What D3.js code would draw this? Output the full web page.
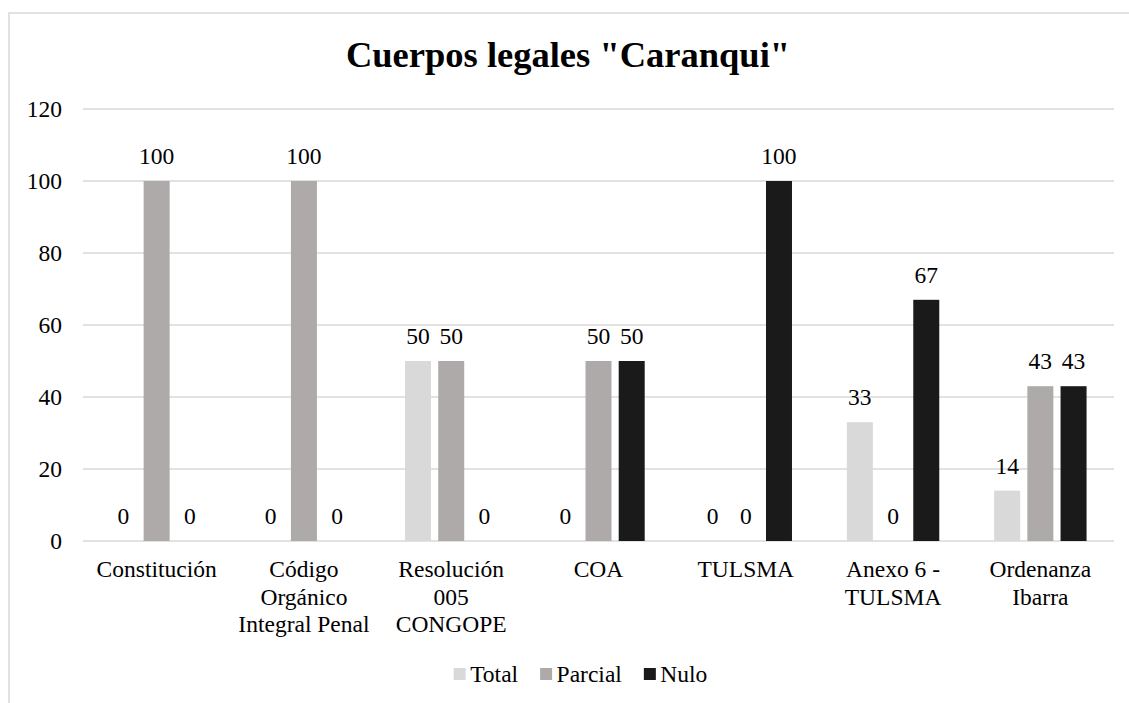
<!DOCTYPE html>
<html>
<head>
<meta charset="utf-8">
<script src="https://cdn.jsdelivr.net/npm/d3@7"></script>
<style>
  html, body { margin: 0; padding: 0; background: #ffffff; }
  svg { display: block; }
  text { font-family: "Liberation Serif", "Times New Roman", serif; fill: #000; }
</style>
</head>
<body>
<svg id="chart" width="1129" height="703"></svg>
<script>
// ---- Data ----
const title = 'Cuerpos legales "Caranqui"';
const categories = [
  ["Constitución"],
  ["Código", "Orgánico", "Integral Penal"],
  ["Resolución", "005", "CONGOPE"],
  ["COA"],
  ["TULSMA"],
  ["Anexo 6 -", "TULSMA"],
  ["Ordenanza", "Ibarra"]
];
const seriesNames = ["Total", "Parcial", "Nulo"];
const totalValues   = [0, 0, 50, 0, 0, 33, 14];
const parcialValues = [100, 100, 50, 50, 0, 0, 43];
const nuloValues    = [0, 0, 0, 50, 100, 67, 43];
const yTicks = [0, 20, 40, 60, 80, 100, 120];
const seriesColors = ["#d9d9d9", "#aeaaaa", "#1a1a1a"];

// ---- Layout ----
const svg = d3.select("#chart");
const W = 1129, H = 703;
const plot = { left: 83, right: 1114, top: 109, bottom: 541 };
const labelFont = 23.5;

// chart border
svg.append("rect")
  .attr("x", 9).attr("y", 13)
  .attr("width", 1140).attr("height", 720)
  .attr("fill", "#fff")
  .attr("stroke", "#d9d9d9").attr("stroke-width", 1.5);

// title
svg.append("text")
  .attr("x", 568).attr("y", 67)
  .attr("text-anchor", "middle")
  .style("font-size", "36.5px").style("font-weight", "bold")
  .text(title);

const catKeys = categories.map((d, i) => i);
const x0 = d3.scaleBand().domain(catKeys).range([plot.left, plot.right]).paddingInner(0).paddingOuter(0);
const groupW = 92.4;
const x1 = d3.scaleBand().domain(seriesNames).range([0, groupW]).paddingInner(0.217).paddingOuter(0);
const y = d3.scaleLinear().domain([0, 120]).range([plot.bottom, plot.top]);

// gridlines
svg.append("g").selectAll("line").data(yTicks).join("line")
  .attr("x1", plot.left).attr("x2", plot.right)
  .attr("y1", d => y(d)).attr("y2", d => y(d))
  .attr("stroke", "#d9d9d9").attr("stroke-width", 1.5);

// y axis labels via d3 axis
const yAxis = d3.axisLeft(y).tickValues(yTicks).tickSize(0).tickPadding(0);
const gy = svg.append("g").attr("transform", `translate(62,0)`).call(yAxis);
gy.select(".domain").remove();
gy.selectAll("text")
  .style("font-size", labelFont + "px")
  .style("font-family", '"Liberation Serif", "Times New Roman", serif')
  .attr("fill", "#000")
  .attr("dy", "0.32em");

// bars
const seriesValues = [totalValues, parcialValues, nuloValues];
const rows = [];
seriesNames.forEach((s, si) => {
  seriesValues[si].forEach((v, ci) => rows.push({ s, si, ci, v }));
});
const offset = (x0.bandwidth() - groupW) / 2;
const bx = d => x0(d.ci) + offset + x1(d.s);

svg.append("g").selectAll("rect").data(rows.filter(d => d.v > 0)).join("rect")
  .attr("x", bx)
  .attr("y", d => y(d.v))
  .attr("width", x1.bandwidth())
  .attr("height", d => y(0) - y(d.v))
  .attr("fill", d => seriesColors[d.si]);

// data labels
svg.append("g").selectAll("text").data(rows).join("text")
  .attr("x", d => bx(d) + x1.bandwidth() / 2)
  .attr("y", d => y(d.v) - 17)
  .attr("text-anchor", "middle")
  .style("font-size", labelFont + "px")
  .text(d => d.v);

// category labels
const gx = svg.append("g");
categories.forEach((lines, ci) => {
  const t = gx.append("text")
    .attr("x", x0(ci) + x0.bandwidth() / 2)
    .attr("y", 577)
    .attr("text-anchor", "middle")
    .style("font-size", labelFont + "px");
  lines.forEach((ln, li) => {
    t.append("tspan")
      .attr("x", x0(ci) + x0.bandwidth() / 2)
      .attr("dy", li === 0 ? 0 : 27.5)
      .text(ln);
  });
});

// legend
const lg = svg.append("g");
const items = [];
let cx = 0;
seriesNames.forEach((s, i) => {
  const g = lg.append("g").attr("transform", `translate(${cx},0)`);
  g.append("rect").attr("x", 0).attr("y", -14).attr("width", 12).attr("height", 12)
    .attr("fill", seriesColors[i]);
  const t = g.append("text").attr("x", 16.5).attr("y", 0)
    .style("font-size", labelFont + "px").text(s);
  const w = 16.5 + t.node().getComputedTextLength();
  cx += w + 22;
});
const totalW = cx - 22;
lg.attr("transform", `translate(${(454 + 707) / 2 - totalW / 2},682)`);
</script>
</body>
</html>
